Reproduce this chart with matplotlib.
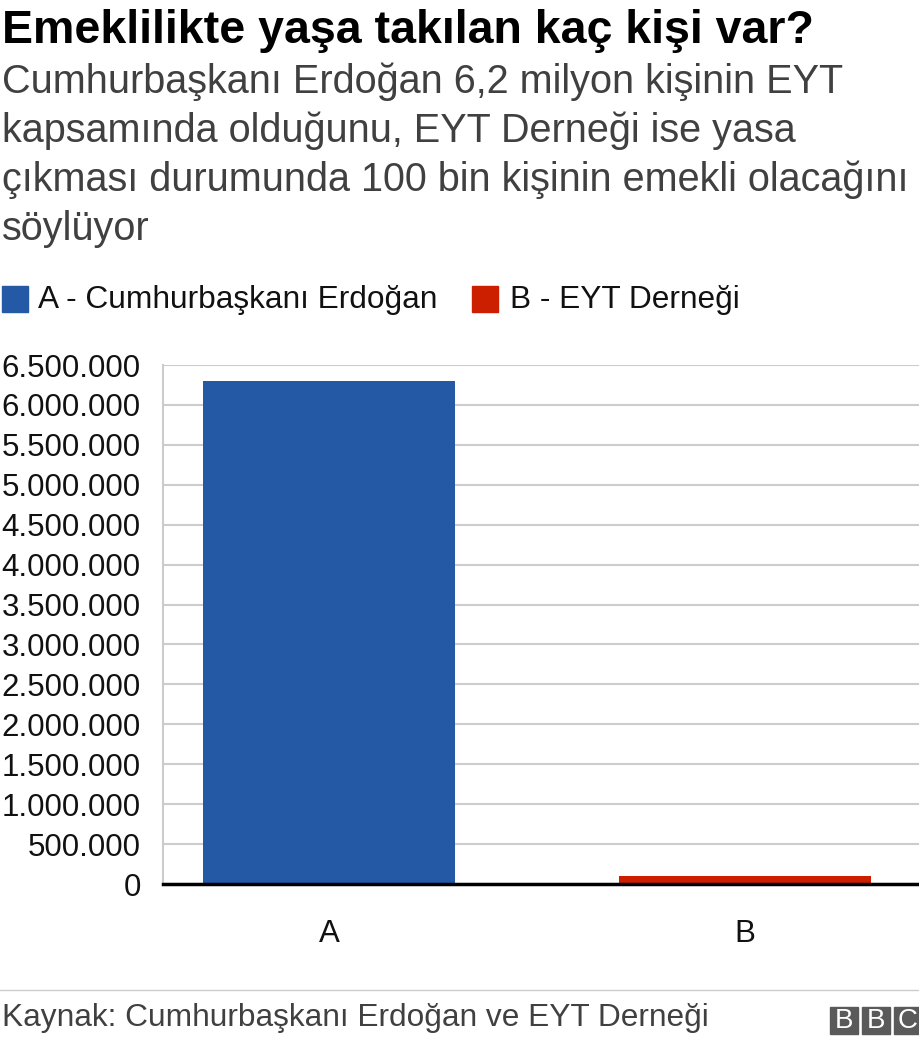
import matplotlib
matplotlib.use("Agg")
import matplotlib.pyplot as plt
from matplotlib.patches import Rectangle
from matplotlib.ticker import FuncFormatter, MultipleLocator

plt.rcParams['font.family'] = ['Liberation Sans', 'DejaVu Sans']

categories = ["A", "B"]
values = [6300000, 100000]
colors = ["#2359a5", "#cc1f00"]
legend_labels = ["A - Cumhurbaşkanı Erdoğan", "B - EYT Derneği"]

title = "Emeklilikte yaşa takılan kaç kişi var?"
subtitle_lines = ["Cumhurbaşkanı Erdoğan 6,2 milyon kişinin EYT",
                  "kapsamında olduğunu, EYT Derneği ise yasa",
                  "çıkması durumunda 100 bin kişinin emekli olacağını",
                  "söylüyor"]
source = "Kaynak: Cumhurbaşkanı Erdoğan ve EYT Derneği"

W, H = 920, 1044
fig = plt.figure(figsize=(W / 100, H / 100), dpi=100)

def fx(px):
    return px / W

def fy(py):
    return 1 - py / H

fig.text(fx(2), fy(31), title, fontsize=33.5, fontweight='bold', color='#000000', va='center', ha='left')
for i, line in enumerate(subtitle_lines):
    fig.text(fx(2), fy(82 + i * 49), line, fontsize=28.5, color='#404040', va='center', ha='left')

# legend
fig.patches.append(Rectangle((fx(2), fy(312)), fx(26), 26 / H, transform=fig.transFigure, color=colors[0]))
fig.text(fx(38), fy(300), legend_labels[0], fontsize=22.8, color='#111111', va='center', ha='left')
fig.patches.append(Rectangle((fx(472), fy(312)), fx(26), 26 / H, transform=fig.transFigure, color=colors[1]))
fig.text(fx(510), fy(300), legend_labels[1], fontsize=22.8, color='#111111', va='center', ha='left')

ax = fig.add_axes([fx(163), fy(884), fx(920 - 163), (884 - 365) / H])
x = list(range(len(categories)))
ax.bar(x, values, width=0.606, color=colors, zorder=3)
ax.set_xlim(-0.4, 1.42)
ax.set_ylim(0, 6500000)
ax.yaxis.set_major_locator(MultipleLocator(500000))
ax.yaxis.set_major_formatter(FuncFormatter(lambda v, p: f"{int(v):,}".replace(",", ".")))
ax.set_xticks(x)
ax.set_xticklabels(categories)
ax.grid(axis='y', color='#cccccc', linewidth=1.5, zorder=0)
for s in ['top', 'right']:
    ax.spines[s].set_visible(False)
ax.spines['left'].set_color('#cccccc')
ax.spines['left'].set_linewidth(1.5)
ax.spines['bottom'].set_color('#000000')
ax.spines['bottom'].set_linewidth(2.5)
ax.spines['bottom'].set_zorder(5)
ax.tick_params(axis='y', length=0, labelsize=22.5, labelcolor='#111111', pad=16)
ax.tick_params(axis='x', length=0, labelsize=22.5, labelcolor='#111111', pad=25)

# footer
fig.add_artist(plt.Line2D([0, 1], [fy(990), fy(990)], transform=fig.transFigure, color='#cccccc', linewidth=1))
fig.text(fx(2), fy(1018), source, fontsize=22.8, color='#404040', va='center', ha='left')

# BBC logo
for i, ch in enumerate("BBC"):
    x0 = 830 + i * 32
    fig.patches.append(Rectangle((fx(x0), fy(1034)), fx(28), 27 / H, transform=fig.transFigure, color='#5a5a5a'))
    fig.text(fx(x0 + 14), fy(1020.5), ch, fontsize=20, color='white', va='center', ha='center')

fig.savefig("out.png", dpi=100)
